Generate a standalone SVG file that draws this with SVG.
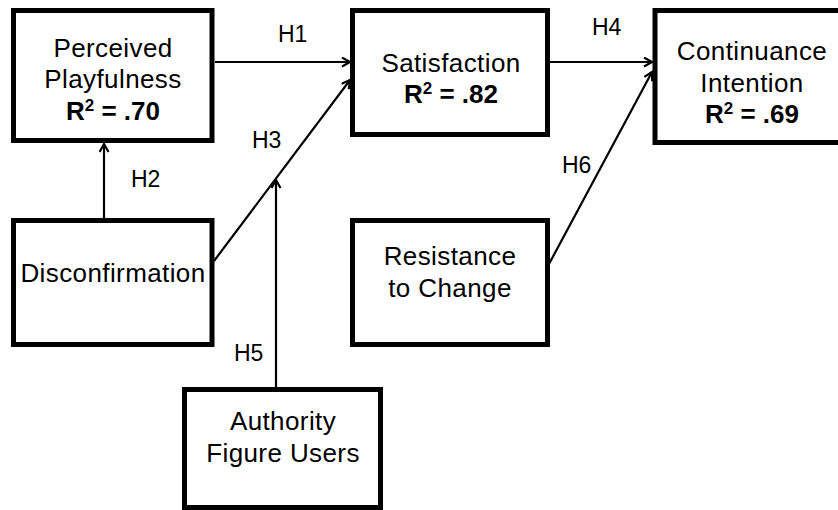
<svg xmlns="http://www.w3.org/2000/svg" width="838" height="510" viewBox="0 0 838 510">
<style>
.box{fill:#fff;stroke:#000;stroke-width:5}
.t{font-family:"Liberation Sans",Arial,sans-serif;font-size:26px;letter-spacing:0.4px;fill:#000;text-anchor:middle}
.b{font-weight:bold;letter-spacing:0}
.sup{font-size:17px}
.lbl{font-family:"Liberation Sans",Arial,sans-serif;font-size:23px;fill:#000}
.c{stroke:#000;stroke-width:2.2;fill:none}
</style>
<defs>
<marker id="ah" markerUnits="userSpaceOnUse" markerWidth="12" markerHeight="12" refX="9" refY="5" orient="auto">
<path d="M1,0.5 L9,5 L1,9.5" fill="none" stroke="#000" stroke-width="2.2"/>
</marker>
</defs>
<rect width="838" height="510" fill="#fff"/>
<g id="connectors">
<line class="c" x1="215" y1="62" x2="350" y2="62" marker-end="url(#ah)"/>
<line class="c" x1="104" y1="218" x2="104" y2="144" marker-end="url(#ah)"/>
<line class="c" x1="214" y1="261" x2="350" y2="80" marker-end="url(#ah)"/>
<line class="c" x1="276" y1="387" x2="276" y2="180" marker-end="url(#ah)"/>
<line class="c" x1="550" y1="62" x2="652" y2="62" marker-end="url(#ah)"/>
<line class="c" x1="549" y1="264" x2="652" y2="72" marker-end="url(#ah)"/>
<text class="lbl" x="278" y="42">H1</text>
<text class="lbl" x="131" y="187">H2</text>
<text class="lbl" x="252" y="148">H3</text>
<text class="lbl" x="592" y="35">H4</text>
<text class="lbl" x="234" y="361">H5</text>
<text class="lbl" x="562" y="173">H6</text>
</g>
<g id="playfulness">
<rect class="box" x="13.5" y="10.5" width="198.5" height="130"/>
<text class="t" x="113" y="57">Perceived</text>
<text class="t" x="113" y="88">Playfulness</text>
<text class="t b" x="113" y="120">R<tspan class="sup" dy="-9">2</tspan><tspan dy="9"> =  .70</tspan></text>
</g>
<g id="satisfaction">
<rect class="box" x="352.5" y="10.5" width="195" height="124"/>
<text class="t" x="451" y="72">Satisfaction</text>
<text class="t b" x="451" y="103">R<tspan class="sup" dy="-9">2</tspan><tspan dy="9"> =  .82</tspan></text>
</g>
<g id="continuance">
<rect class="box" x="655" y="10.5" width="200" height="132"/>
<text class="t" x="752" y="60">Continuance</text>
<text class="t" x="752" y="92">Intention</text>
<text class="t b" x="752" y="123">R<tspan class="sup" dy="-9">2</tspan><tspan dy="9"> =  .69</tspan></text>
</g>
<g id="disconfirmation">
<rect class="box" x="13.5" y="220.5" width="198.5" height="124"/>
<text class="t" x="113" y="282">Disconfirmation</text>
</g>
<g id="resistance">
<rect class="box" x="352.5" y="220.5" width="195" height="124"/>
<text class="t" x="450" y="265">Resistance</text>
<text class="t" x="450" y="297">to Change</text>
</g>
<g id="authority">
<rect class="box" x="184.5" y="389.5" width="196" height="118"/>
<text class="t" x="283" y="430">Authority</text>
<text class="t" x="283" y="462">Figure Users</text>
</g>
</svg>
